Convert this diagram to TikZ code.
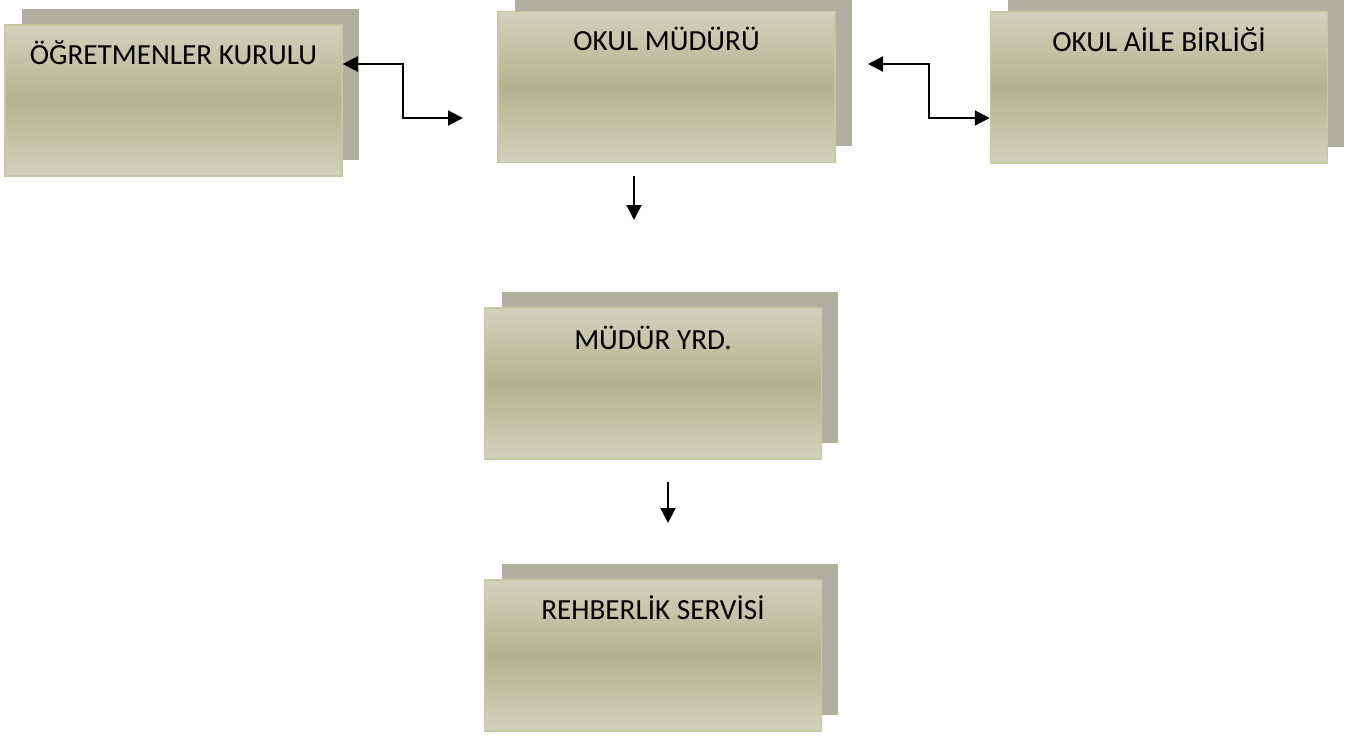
\documentclass[tikz,border=0pt]{standalone}
\usepackage{fontspec}
\setmainfont{Carlito}
\usetikzlibrary{arrows.meta,shadows}
\definecolor{boxlight}{RGB}{210,210,190}
\definecolor{boxdark}{RGB}{178,179,143}
\definecolor{boxedge}{RGB}{198,199,165}
\definecolor{boxshadow}{RGB}{177,175,159}
\begin{document}
\begin{tikzpicture}[x=0.02cm, y=-0.02cm,
  orgbox/.style={rectangle, draw=boxedge, line width=0.9pt, inner sep=0pt,
    minimum width=6.74cm, minimum height=3.02cm,
    top color=boxlight, bottom color=boxlight, middle color=boxdark,
    drop shadow={shadow xshift=0.34cm, shadow yshift=0.32cm, fill=boxshadow, opacity=1}},
  boxtext/.style={anchor=base, inner sep=0pt, font=\fontsize{16.6}{20}\selectfont},
  link/.style={line width=1.2pt, -{Triangle[length=0.3cm,width=0.3cm]}},
  both/.style={line width=1.2pt, {Triangle[length=0.3cm,width=0.3cm]}-{Triangle[length=0.3cm,width=0.3cm]}}]
\clip (0,0) rectangle (1362,737);
\node[orgbox] (ogr) at (173.5,100.5) {};
\node[orgbox] (mud) at (666.5,87) {};
\node[orgbox] (aile) at (1159,87.5) {};
\node[orgbox] (yrd) at (653,383.5) {};
\node[orgbox] (reh) at (653,655.5) {};
\node[boxtext] (ogr-t) at ([yshift=-0.8cm]ogr.north) {ÖĞRETMENLER KURULU};
\node[boxtext] (mud-t) at ([yshift=-0.8cm]mud.north) {OKUL MÜDÜRÜ};
\node[boxtext] (aile-t) at ([yshift=-0.8cm]aile.north) {OKUL AİLE BİRLİĞİ};
\node[boxtext] (yrd-t) at ([yshift=-0.84cm]yrd.north) {MÜDÜR YRD.};
\node[boxtext] (reh-t) at ([yshift=-0.8cm]reh.north) {REHBERLİK SERVİSİ};
\coordinate (c1) at (463,118);
\coordinate (c2) at (868,64);
\coordinate (d1) at (634,176);
\coordinate (d1e) at (634,220);
\coordinate (d2) at (668,482);
\coordinate (d2e) at (668,523);
\draw[both] (ogr.east |- 0,64) -- ++(60,0) |- (c1);
\draw[both] (c2) -- ++(61,0) |- (aile.west |- 0,118);
\draw[link] (d1) -- (d1e);
\draw[link] (d2) -- (d2e);
\end{tikzpicture}
\end{document}
